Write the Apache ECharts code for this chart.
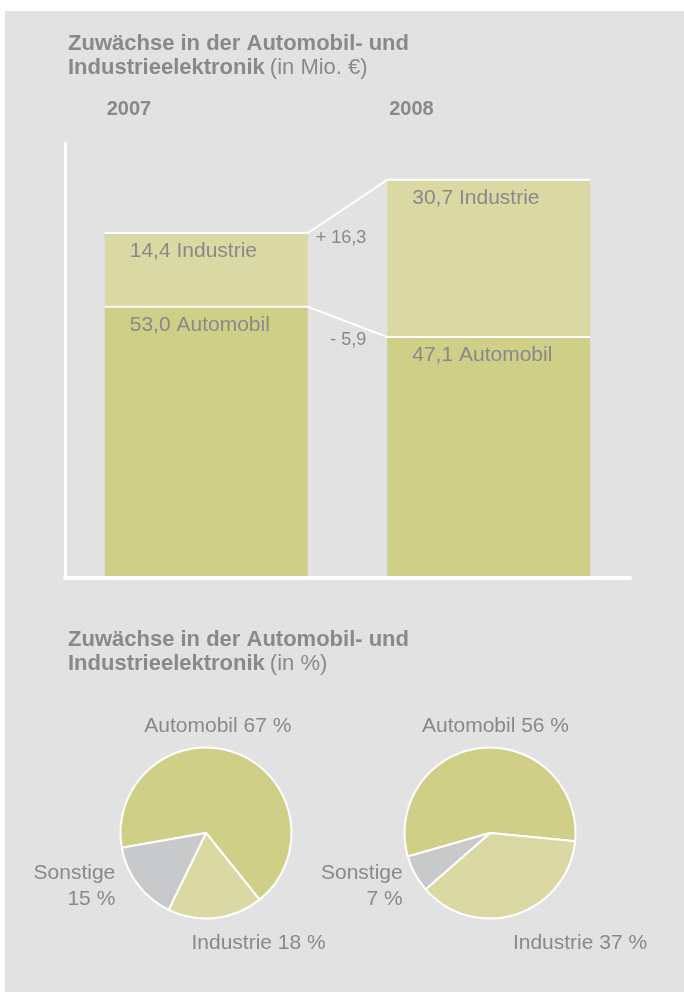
<!DOCTYPE html>
<html><head><meta charset="utf-8">
<script src="https://cdn.jsdelivr.net/npm/echarts@6/dist/echarts.min.js"></script>
<style>html,body{margin:0;padding:0;background:#fff}#c{width:684px;height:992px}</style>
</head><body><div id="c"></div>
<script>
// ---- data ----
const years = ['2007', '2008'];
const automobil = [53.0, 47.1];
const industrie = [14.4, 30.7];
const pieNames = ['Automobil', 'Industrie', 'Sonstige'];
const pie2007 = [67, 18, 15];
const pie2008 = [56, 37, 7];
const titleBold1 = 'Zuwächse in der Automobil- und';
const titleBold2 = 'Industrieelektronik';
const unitBar = '(in Mio. €)';
const unitPie = '(in %)';

// ---- style ----
const FONT = '"Liberation Sans", Arial, Helvetica, sans-serif';
const TEXT = '#898989';
const BG = '#e1e2e1';
const C_AUTO = '#d0cf88';
const C_IND = '#dbd9a3';
const C_SON = '#c8c9cb';
const PIE_COLORS = [C_AUTO, C_IND, C_SON];
const BAR_W = 203;
const PIE_CENTERS = [[206, 833], [490, 833]];
const PIE_R = 85.5;
const PIE_START = [190, 196];
const PIE_LABEL_POS = [
  [[11.8, -106.7, 'center'], [52.6, 109.8, 'center'], [-90.7, 53.6, 'right']],
  [[5.5, -106.7, 'center'], [90, 109.8, 'center'], [-87.3, 53.6, 'right']]
];

const fmt = v => v.toFixed(1).replace('.', ',');
const levels = [
  [0, automobil[0], automobil[1]],
  [0, automobil[0] + industrie[0], automobil[1] + industrie[1]]
];
const deltas = [automobil[1] - automobil[0], industrie[1] - industrie[0]];
const deltaText = d => (d >= 0 ? '+ ' : '- ') + fmt(Math.abs(d));
const DELTA_ANCHOR = [{ from: 1, dy: 3 }, { from: 0, dy: 5 }];

const titleRich = {
  b: { fontWeight: 'bold', fontSize: 22, lineHeight: 24, color: TEXT, fontFamily: FONT },
  n: { fontWeight: 'normal', fontSize: 22, lineHeight: 24, color: TEXT, fontFamily: FONT }
};

function pieSeries(k, values) {
  return {
    type: 'pie',
    center: PIE_CENTERS[k],
    radius: PIE_R,
    startAngle: PIE_START[k],
    clockwise: true,
    avoidLabelOverlap: false,
    silent: true,
    animation: false,
    data: pieNames.map((n, i) => ({ name: n, value: values[i], itemStyle: { color: PIE_COLORS[i] } })),
    itemStyle: { borderColor: '#fff', borderWidth: 2 },
    label: {
      show: true, position: 'outside', color: TEXT, fontSize: 21, lineHeight: 26, fontFamily: FONT,
      formatter: p => p.dataIndex === 2 ? p.name + '\n' + p.value + ' %' : p.name + ' ' + p.value + ' %'
    },
    labelLine: { show: false },
    labelLayout: p => {
      const o = PIE_LABEL_POS[k][p.dataIndex];
      return { x: PIE_CENTERS[k][0] + o[0], y: PIE_CENTERS[k][1] + o[1], align: o[2], verticalAlign: 'middle' };
    }
  };
}

const barLabel = {
  show: true, position: 'insideTopLeft', distance: 8, offset: [17, 0],
  color: TEXT, fontSize: 21, fontFamily: FONT,
  formatter: p => fmt(p.value) + ' ' + p.seriesName
};

const chart = echarts.init(document.getElementById('c'), null, { renderer: 'canvas' });
chart.setOption({
  backgroundColor: '#fff',
  animation: false,
  textStyle: { fontFamily: FONT },
  graphic: [{ id: 'panel', type: 'rect', left: 5, top: 11, z: -10, shape: { width: 679, height: 981 }, style: { fill: BG } }],
  title: [
    { left: 68, top: 32, padding: 0, text: '{b|' + titleBold1 + '}\n{b|' + titleBold2 + '} {n|' + unitBar + '}', textStyle: { rich: titleRich } },
    { left: 68, top: 628, padding: 0, text: '{b|' + titleBold1 + '}\n{b|' + titleBold2 + '} {n|' + unitPie + '}', textStyle: { rich: titleRich } }
  ],
  grid: { left: 65, right: 54, top: 143, bottom: 414, containLabel: false },
  xAxis: {
    type: 'category', data: years, z: 5,
    axisLine: { show: true, lineStyle: { color: '#fff', width: 4 } },
    axisTick: { show: false }, axisLabel: { show: false }, splitLine: { show: false }
  },
  yAxis: {
    type: 'value', min: 0, max: 85,
    axisLine: { show: true, lineStyle: { color: '#fff', width: 3 } },
    axisTick: { show: false }, axisLabel: { show: false }, splitLine: { show: false }
  },
  series: [
    { name: 'Automobil', type: 'bar', stack: 's', barWidth: BAR_W, data: automobil, itemStyle: { color: C_AUTO }, label: barLabel, silent: true },
    { name: 'Industrie', type: 'bar', stack: 's', barWidth: BAR_W, data: industrie, itemStyle: { color: C_IND }, label: barLabel, silent: true },
    {
      type: 'custom', z: 6, silent: true, data: levels, encode: { x: 0, y: [1, 2] },
      renderItem: (params, api) => {
        const a = api.coord([0, api.value(1)]);
        const b = api.coord([1, api.value(2)]);
        const hw = BAR_W / 2;
        const i = params.dataIndex;
        const anc = DELTA_ANCHOR[i];
        const yAnchor = anc.from === 0 ? a[1] : b[1];
        return {
          type: 'group',
          children: [
            { type: 'polyline', shape: { points: [[a[0] - hw, a[1]], [a[0] + hw, a[1]], [b[0] - hw, b[1]], [b[0] + hw, b[1]]] },
              style: { stroke: '#fff', lineWidth: 2, fill: null } },
            { type: 'text', style: { text: deltaText(deltas[i]), x: a[0] + hw + 58.5, y: yAnchor + anc.dy,
              align: 'right', verticalAlign: 'middle', fill: TEXT, fontSize: 18, fontFamily: FONT } }
          ]
        };
      }
    },
    pieSeries(0, pie2007),
    pieSeries(1, pie2008)
  ]
});

// year labels aligned with the bars' left edges
chart.setOption({
  graphic: years.map((y, i) => ({
    id: 'year' + i, type: 'text',
    x: chart.convertToPixel({ xAxisIndex: 0 }, i) - BAR_W / 2 + 2, y: 109,
    style: { text: y, fill: TEXT, fontSize: 20, fontWeight: 'bold', fontFamily: FONT, verticalAlign: 'middle', align: 'left' }
  }))
});
</script></body></html>
